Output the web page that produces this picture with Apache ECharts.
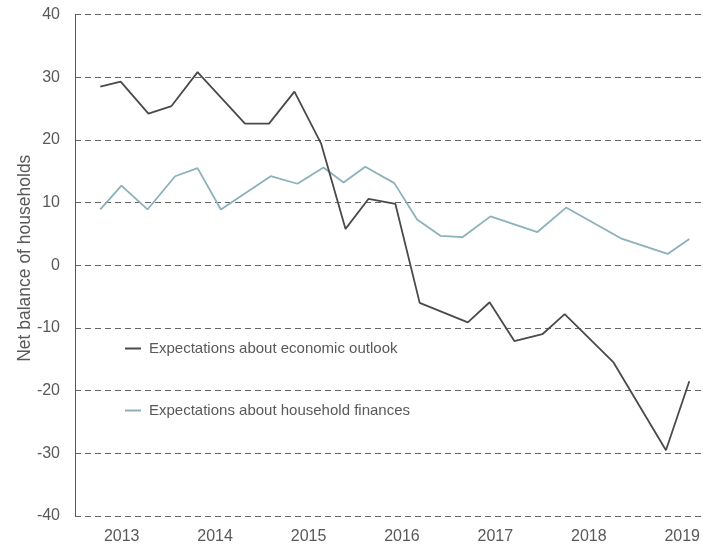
<!DOCTYPE html>
<html>
<head>
<meta charset="utf-8">
<script src="https://cdn.jsdelivr.net/npm/echarts@6/dist/echarts.min.js"></script>
<style>
  html, body { margin: 0; padding: 0; background: #ffffff; }
  #chart { width: 703px; height: 552px; }
</style>
</head>
<body>
<div id="chart"></div>
<script>
// Survey dates (decimal years) and net balances
var outlookDates = [2012.771, 2012.989, 2013.286, 2013.533, 2013.812, 2014.320, 2014.577, 2014.849,
  2015.135, 2015.396, 2015.643, 2015.929, 2016.190, 2016.705, 2016.938, 2017.203, 2017.503,
  2017.742, 2018.265, 2018.826, 2019.076];
var outlookValues = [28.5, 29.3, 24.2, 25.4, 30.8, 22.6, 22.6, 27.7,
  19.4, 5.8, 10.6, 9.8, -6.0, -9.1, -5.9, -12.1, -11.0,
  -7.8, -15.5, -29.5, -18.5];

var financeDates = [2012.771, 2012.997, 2013.276, 2013.572, 2013.812, 2014.062, 2014.595, 2014.881,
  2015.160, 2015.375, 2015.607, 2015.918, 2016.162, 2016.412, 2016.651, 2016.948, 2017.450,
  2017.757, 2018.343, 2018.844, 2019.076];
var financeValues = [8.9, 12.7, 8.9, 14.2, 15.5, 8.9, 14.2, 13.0,
  15.6, 13.2, 15.7, 13.1, 7.3, 4.7, 4.5, 7.8, 5.3,
  9.2, 4.3, 1.8, 4.2];

var yearTicks = [2013, 2014, 2015, 2016, 2017, 2018, 2019];
var seriesNames = ['Expectations about economic outlook', 'Expectations about household finances'];

function pairs(xs, ys) {
  return xs.map(function (x, i) { return [x, ys[i]]; });
}

var textColor = '#595959';
var font = 'Liberation Sans, Arial, sans-serif';

var chart = echarts.init(document.getElementById('chart'), null, { renderer: 'canvas' });

var option = {
  backgroundColor: '#ffffff',
  animation: false,
  grid: { left: 75, right: 0, top: 14.5, bottom: 36, containLabel: false },
  legend: {
    orient: 'vertical',
    left: 125,
    top: 341,
    padding: 0,
    itemGap: 47,
    itemWidth: 16,
    itemHeight: 2,
    icon: 'rect',
    textStyle: { color: textColor, fontSize: 15, fontFamily: font, padding: [0, 0, 0, 3] },
    data: seriesNames
  },
  xAxis: {
    type: 'value',
    min: 2012.5,
    max: 2019.22,
    axisLine: { show: false },
    axisTick: { show: false },
    splitLine: { show: false },
    axisLabel: {
      customValues: yearTicks,
      color: textColor,
      fontSize: 16,
      fontFamily: font,
      margin: 13,
      formatter: function (v) { return String(Math.round(v)); }
    }
  },
  yAxis: {
    type: 'value',
    min: -40,
    max: 40,
    interval: 10,
    name: 'Net balance of households',
    nameLocation: 'middle',
    nameGap: 41,
    nameMoveOverlap: false,
    nameTextStyle: { color: textColor, fontSize: 17.5, fontFamily: font, padding: [0, 0, 0, 14] },
    axisLine: { show: true, lineStyle: { color: '#5a5a5a', width: 1 } },
    axisTick: { show: false },
    axisLabel: { color: textColor, fontSize: 16, fontFamily: font, margin: 15 },
    splitLine: { show: true, lineStyle: { color: '#666666', width: 1.2, type: [6, 4] } }
  },
  series: [
    {
      name: seriesNames[0],
      type: 'line',
      data: pairs(outlookDates, outlookValues),
      showSymbol: false,
      symbol: 'none',
      color: '#4a4a4a',
      lineStyle: { color: '#4a4a4a', width: 1.8 },
      z: 3
    },
    {
      name: seriesNames[1],
      type: 'line',
      data: pairs(financeDates, financeValues),
      showSymbol: false,
      symbol: 'none',
      color: '#8db1bb',
      lineStyle: { color: '#8db1bb', width: 1.8 },
      z: 2
    }
  ]
};

chart.setOption(option);
</script>
</body>
</html>
